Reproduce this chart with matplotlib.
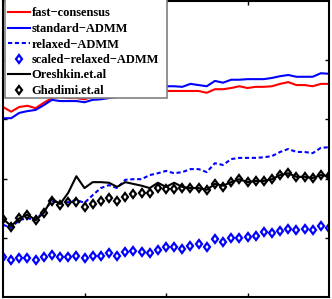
import matplotlib
matplotlib.use("Agg")
import matplotlib.pyplot as plt
from matplotlib.patches import Rectangle
import numpy as np

x = np.arange(41)

fast_consensus = [3.21, 3.13, 3.21, 3.23, 3.19, 3.28, 3.36, 3.38, 3.36, 3.36, 3.34, 3.38, 3.40, 3.40,
                  3.41, 3.40, 3.41, 3.43, 3.45, 3.46, 3.48, 3.48, 3.48, 3.48, 3.48, 3.45, 3.51, 3.51,
                  3.53, 3.56, 3.53, 3.55, 3.55, 3.56, 3.60, 3.63, 3.58, 3.58, 3.56, 3.60, 3.60]
standard_admm = [3.02, 3.02, 3.11, 3.14, 3.16, 3.24, 3.33, 3.31, 3.31, 3.31, 3.29, 3.33, 3.34, 3.36,
                 3.38, 3.40, 3.41, 3.46, 3.50, 3.53, 3.56, 3.56, 3.55, 3.60, 3.58, 3.56, 3.65, 3.62,
                 3.67, 3.67, 3.68, 3.68, 3.68, 3.70, 3.73, 3.75, 3.72, 3.72, 3.72, 3.78, 3.77]
relaxed_admm = [1.22, 1.17, 1.30, 1.33, 1.30, 1.45, 1.62, 1.59, 1.60, 1.64, 1.59, 1.72, 1.84, 1.89,
                1.84, 1.98, 1.99, 1.99, 2.06, 2.09, 2.13, 2.09, 2.11, 2.16, 2.16, 2.11, 2.26, 2.23,
                2.33, 2.35, 2.35, 2.35, 2.36, 2.38, 2.45, 2.50, 2.45, 2.45, 2.43, 2.52, 2.53]
scaled_relaxed = [0.68, 0.63, 0.66, 0.66, 0.63, 0.68, 0.71, 0.68, 0.68, 0.69, 0.66, 0.69, 0.69, 0.74,
                  0.69, 0.76, 0.78, 0.76, 0.74, 0.79, 0.85, 0.85, 0.81, 0.86, 0.90, 0.85, 0.98, 0.93,
                  1.00, 1.00, 1.01, 1.03, 1.10, 1.08, 1.12, 1.15, 1.13, 1.15, 1.13, 1.20, 1.17]
oreshkin = [1.32, 1.20, 1.33, 1.39, 1.30, 1.42, 1.66, 1.57, 1.76, 2.04, 1.84, 1.94, 1.94, 1.93,
            1.86, 1.94, 1.91, 1.88, 1.84, 1.93, 1.86, 1.93, 1.86, 1.84, 1.84, 1.81, 1.91, 1.88,
            1.94, 1.99, 1.94, 1.96, 1.96, 1.99, 2.06, 2.09, 2.03, 2.03, 2.01, 2.06, 2.04]
ghadimi = [1.32, 1.18, 1.33, 1.39, 1.30, 1.42, 1.62, 1.55, 1.60, 1.60, 1.52, 1.57, 1.62, 1.67,
           1.62, 1.69, 1.74, 1.76, 1.76, 1.84, 1.82, 1.82, 1.84, 1.84, 1.84, 1.81, 1.91, 1.86,
           1.94, 1.99, 1.94, 1.96, 1.96, 1.99, 2.06, 2.09, 2.03, 2.03, 2.01, 2.06, 2.04]

labels = ["fast\u2212consensus", "standard\u2212ADMM", "relaxed\u2212ADMM",
          "scaled\u2212relaxed\u2212ADMM", "Oreshkin.et.al", "Ghadimi.et.al"]

W, H = 332, 299
fig = plt.figure(figsize=(W / 100, H / 100), dpi=100)
ax = fig.add_axes([3 / W, 2 / H, 326 / W, 296 / H])

lw = 1.5
ax.plot(x, fast_consensus, color=(1, 0, 0), lw=lw, label=labels[0])
ax.plot(x, standard_admm, color=(0, 0, 1), lw=lw, label=labels[1])
ax.plot(x, relaxed_admm, color=(0, 0, 1), lw=lw, dashes=(2.0, 1.3), label=labels[2])
ax.plot(x, scaled_relaxed, ls='none', marker='d', ms=4.3, mew=1.6, mfc='none',
        mec=(0, 0, 1), label=labels[3])
ax.plot(x, oreshkin, color='black', lw=lw, label=labels[4])
ax.plot(x, ghadimi, ls='none', marker='d', ms=4.3, mew=1.6, mfc='none',
        mec='black', label=labels[5])

ax.set_xlim(0, 40)
ax.set_ylim(0, 5)
ax.set_xticks([10, 20, 30])
ax.set_yticks([1, 2, 3, 4])
ax.set_xticklabels([])
ax.set_yticklabels([])
ax.tick_params(direction='in', length=3, width=1, top=True, right=True)
for s in ax.spines.values():
    s.set_linewidth(1.5)

# legend frame (MATLAB style, extra space on the right)
frame = Rectangle((5 / W, 1 - 98 / H), 162 / W, 98.5 / H, transform=fig.transFigure,
                  facecolor='white', edgecolor='0.5', linewidth=1.2, zorder=4,
                  clip_on=False)
ax.add_patch(frame)

leg = ax.legend(loc='upper left', bbox_to_anchor=(8 / W, 1 - 7.5 / H),
                bbox_transform=fig.transFigure,
                prop={'family': 'Liberation Serif', 'weight': 'bold', 'size': 9},
                handlelength=1.75, handletextpad=0.12, labelspacing=0.28,
                borderpad=0, borderaxespad=0, frameon=False, numpoints=1)
leg.set_zorder(5)

fig.savefig("out.png", dpi=100)
